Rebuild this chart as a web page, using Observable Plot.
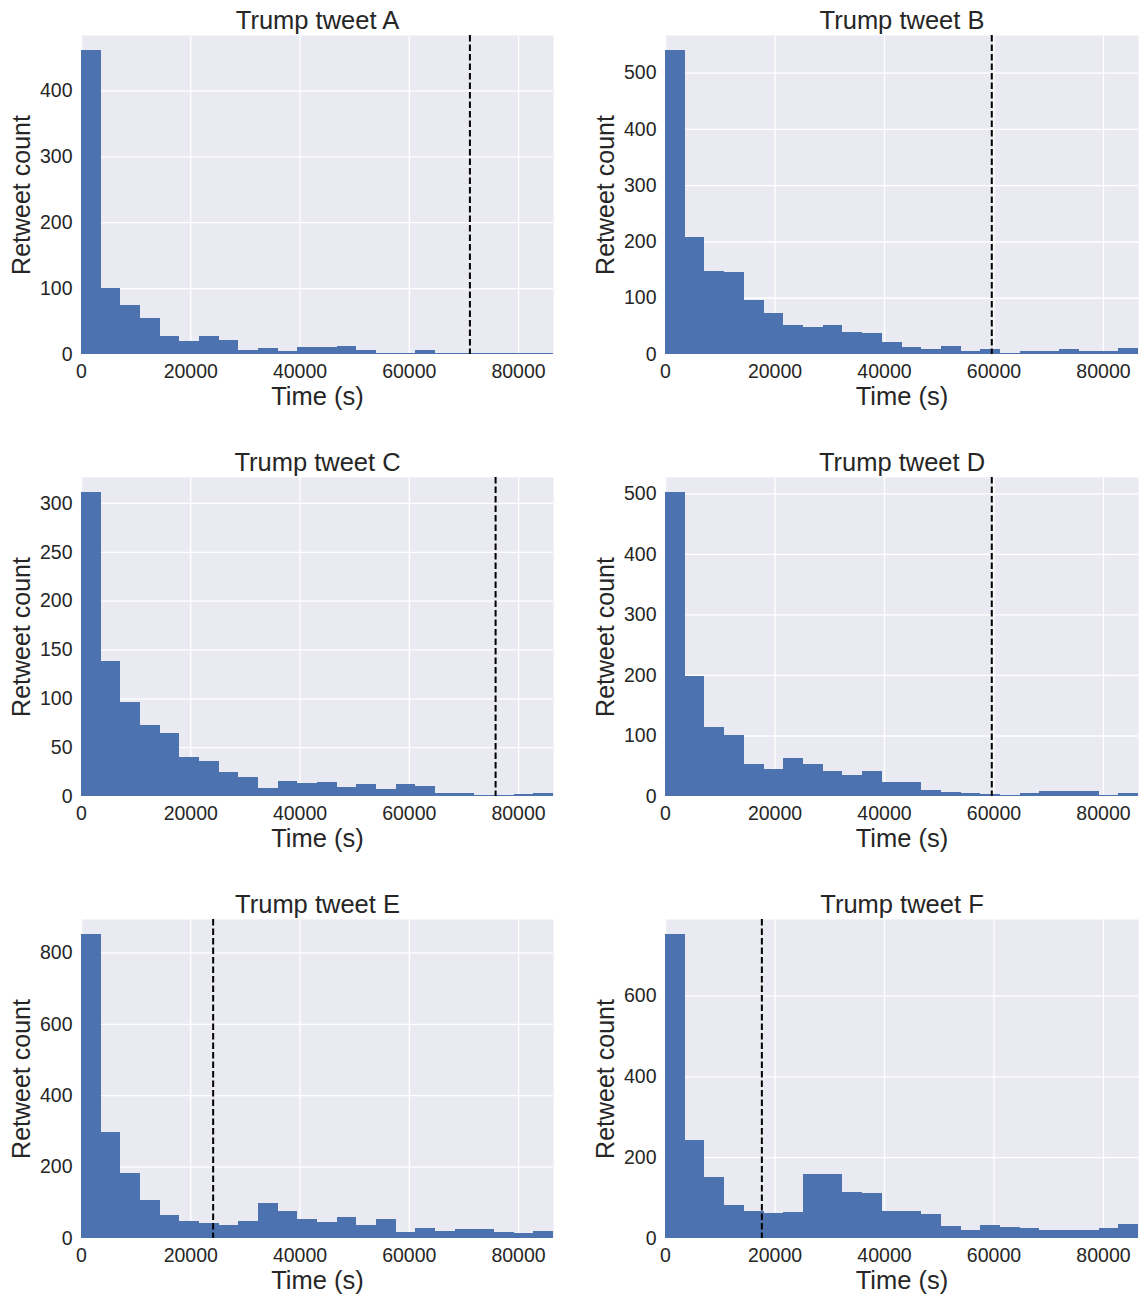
<!DOCTYPE html>
<html>
<head>
<meta charset="utf-8">
<script src="https://cdn.jsdelivr.net/npm/d3@7"></script>
<script src="https://cdn.jsdelivr.net/npm/@observablehq/plot@0.6"></script>
<style>
  body { margin: 0; background: #ffffff; }
  #chart { position: relative; width: 1144px; height: 1298px; }
  #chart svg { position: absolute; }
</style>
</head>
<body>
<div id="chart"></div>
<script>
// ---- data (retweet counts per one-hour bin over 24 hours) ----
const titles = ["Trump tweet A", "Trump tweet B", "Trump tweet C", "Trump tweet D", "Trump tweet E", "Trump tweet F"];

const countsA = [461, 100, 74, 55, 27, 19, 27, 21, 6, 9, 5, 10, 10, 12, 6, 1, 2, 6, 2, 2, 2, 1, 1, 1];
const countsB = [540, 208, 147, 146, 96, 73, 51, 48, 51, 39, 37, 21, 12, 9, 14, 5, 9, 2, 5, 5, 9, 5, 5, 11];
const countsC = [311, 138, 96, 73, 64, 40, 36, 25, 19, 8, 15, 13, 14, 9, 12, 7, 12, 10, 3, 3, 1, 1, 2, 3];
const countsD = [502, 198, 114, 101, 53, 45, 63, 53, 41, 35, 41, 23, 23, 10, 7, 5, 3, 2, 5, 8, 8, 8, 2, 5];
const countsE = [851, 296, 181, 106, 64, 47, 41, 36, 47, 97, 75, 52, 44, 58, 36, 52, 16, 27, 21, 24, 24, 16, 13, 21];
const countsF = [752, 242, 150, 81, 68, 61, 64, 158, 158, 113, 111, 68, 66, 59, 29, 19, 31, 26, 24, 21, 19, 21, 24, 34];
const allCounts = [countsA, countsB, countsC, countsD, countsE, countsF];

// dashed reference line position (s) for each tweet
const cutoffs = [71100, 59600, 75800, 59600, 24100, 17600];

// tick labels
const xTicks = [0, 20000, 40000, 60000, 80000];
const yTicksList = [
  [0, 100, 200, 300, 400],
  [0, 100, 200, 300, 400, 500],
  [0, 50, 100, 150, 200, 250, 300],
  [0, 100, 200, 300, 400, 500],
  [0, 200, 400, 600, 800],
  [0, 200, 400, 600]
];

const binWidth = 3600;
const xMax = 86400;

// ---- drawing ----
const chart = document.getElementById("chart");
const FONT = "'Liberation Sans', Arial, Helvetica, sans-serif";
const TEXT = "#262626";

allCounts.forEach((counts, i) => {
  const col = i % 2, row = Math.floor(i / 2);
  const bins = counts.map((c, k) => ({x1: k * binWidth, x2: (k + 1) * binWidth, count: c}));
  const ymax = d3.max(counts) * 1.05;
  const yt = yTicksList[i];
  const marginLeft = col === 0 ? 81 : 93;
  const marginRight = col === 0 ? 19 : 6;

  const svg = Plot.plot({
    width: 572,
    height: 414,
    marginLeft,
    marginRight,
    marginTop: 35,
    marginBottom: 60,
    style: {fontFamily: FONT, fontSize: "19.5px", color: TEXT, background: "transparent", overflow: "visible"},
    x: {domain: [0, xMax], label: null},
    y: {domain: [0, ymax], label: null},
    marks: [
      Plot.frame({fill: "#eaeaf2", stroke: null}),
      Plot.gridX(xTicks, {stroke: "#ffffff", strokeOpacity: 1, strokeWidth: 1.3}),
      Plot.gridY(yt, {stroke: "#ffffff", strokeOpacity: 1, strokeWidth: 1.3}),
      Plot.rectY(bins, {x1: "x1", x2: "x2", y: "count", fill: "#4c72b0", inset: 0, shapeRendering: "crispEdges"}),
      Plot.ruleX([cutoffs[i]], {stroke: "#000000", strokeWidth: 2, strokeDasharray: "6.5,3"}),
      Plot.axisX(xTicks, {tickSize: 0, tickPadding: 10, tickFormat: d => String(d), fontSize: 19.5, fill: TEXT, label: null}),
      Plot.axisY(yt, {tickSize: 0, tickPadding: 9, tickFormat: d => String(d), fontSize: 19.5, fill: TEXT, label: null}),
      Plot.text([titles[i]], {text: d => d, frameAnchor: "top", lineAnchor: "middle", textAnchor: "middle", dy: -15, fontSize: 25.5, fill: TEXT}),
      Plot.text(["Time (s)"], {text: d => d, frameAnchor: "bottom", lineAnchor: "middle", textAnchor: "middle", dy: 42, fontSize: 25.5, fill: TEXT}),
      Plot.text(["Retweet count"], {text: d => d, frameAnchor: "left", lineAnchor: "middle", textAnchor: "middle", dx: -60, rotate: -90, fontSize: 25, fill: TEXT})
    ]
  });
  svg.style.left = (col * 572) + "px";
  svg.style.top = (row * 442) + "px";
  chart.appendChild(svg);
});
</script>
</body>
</html>
